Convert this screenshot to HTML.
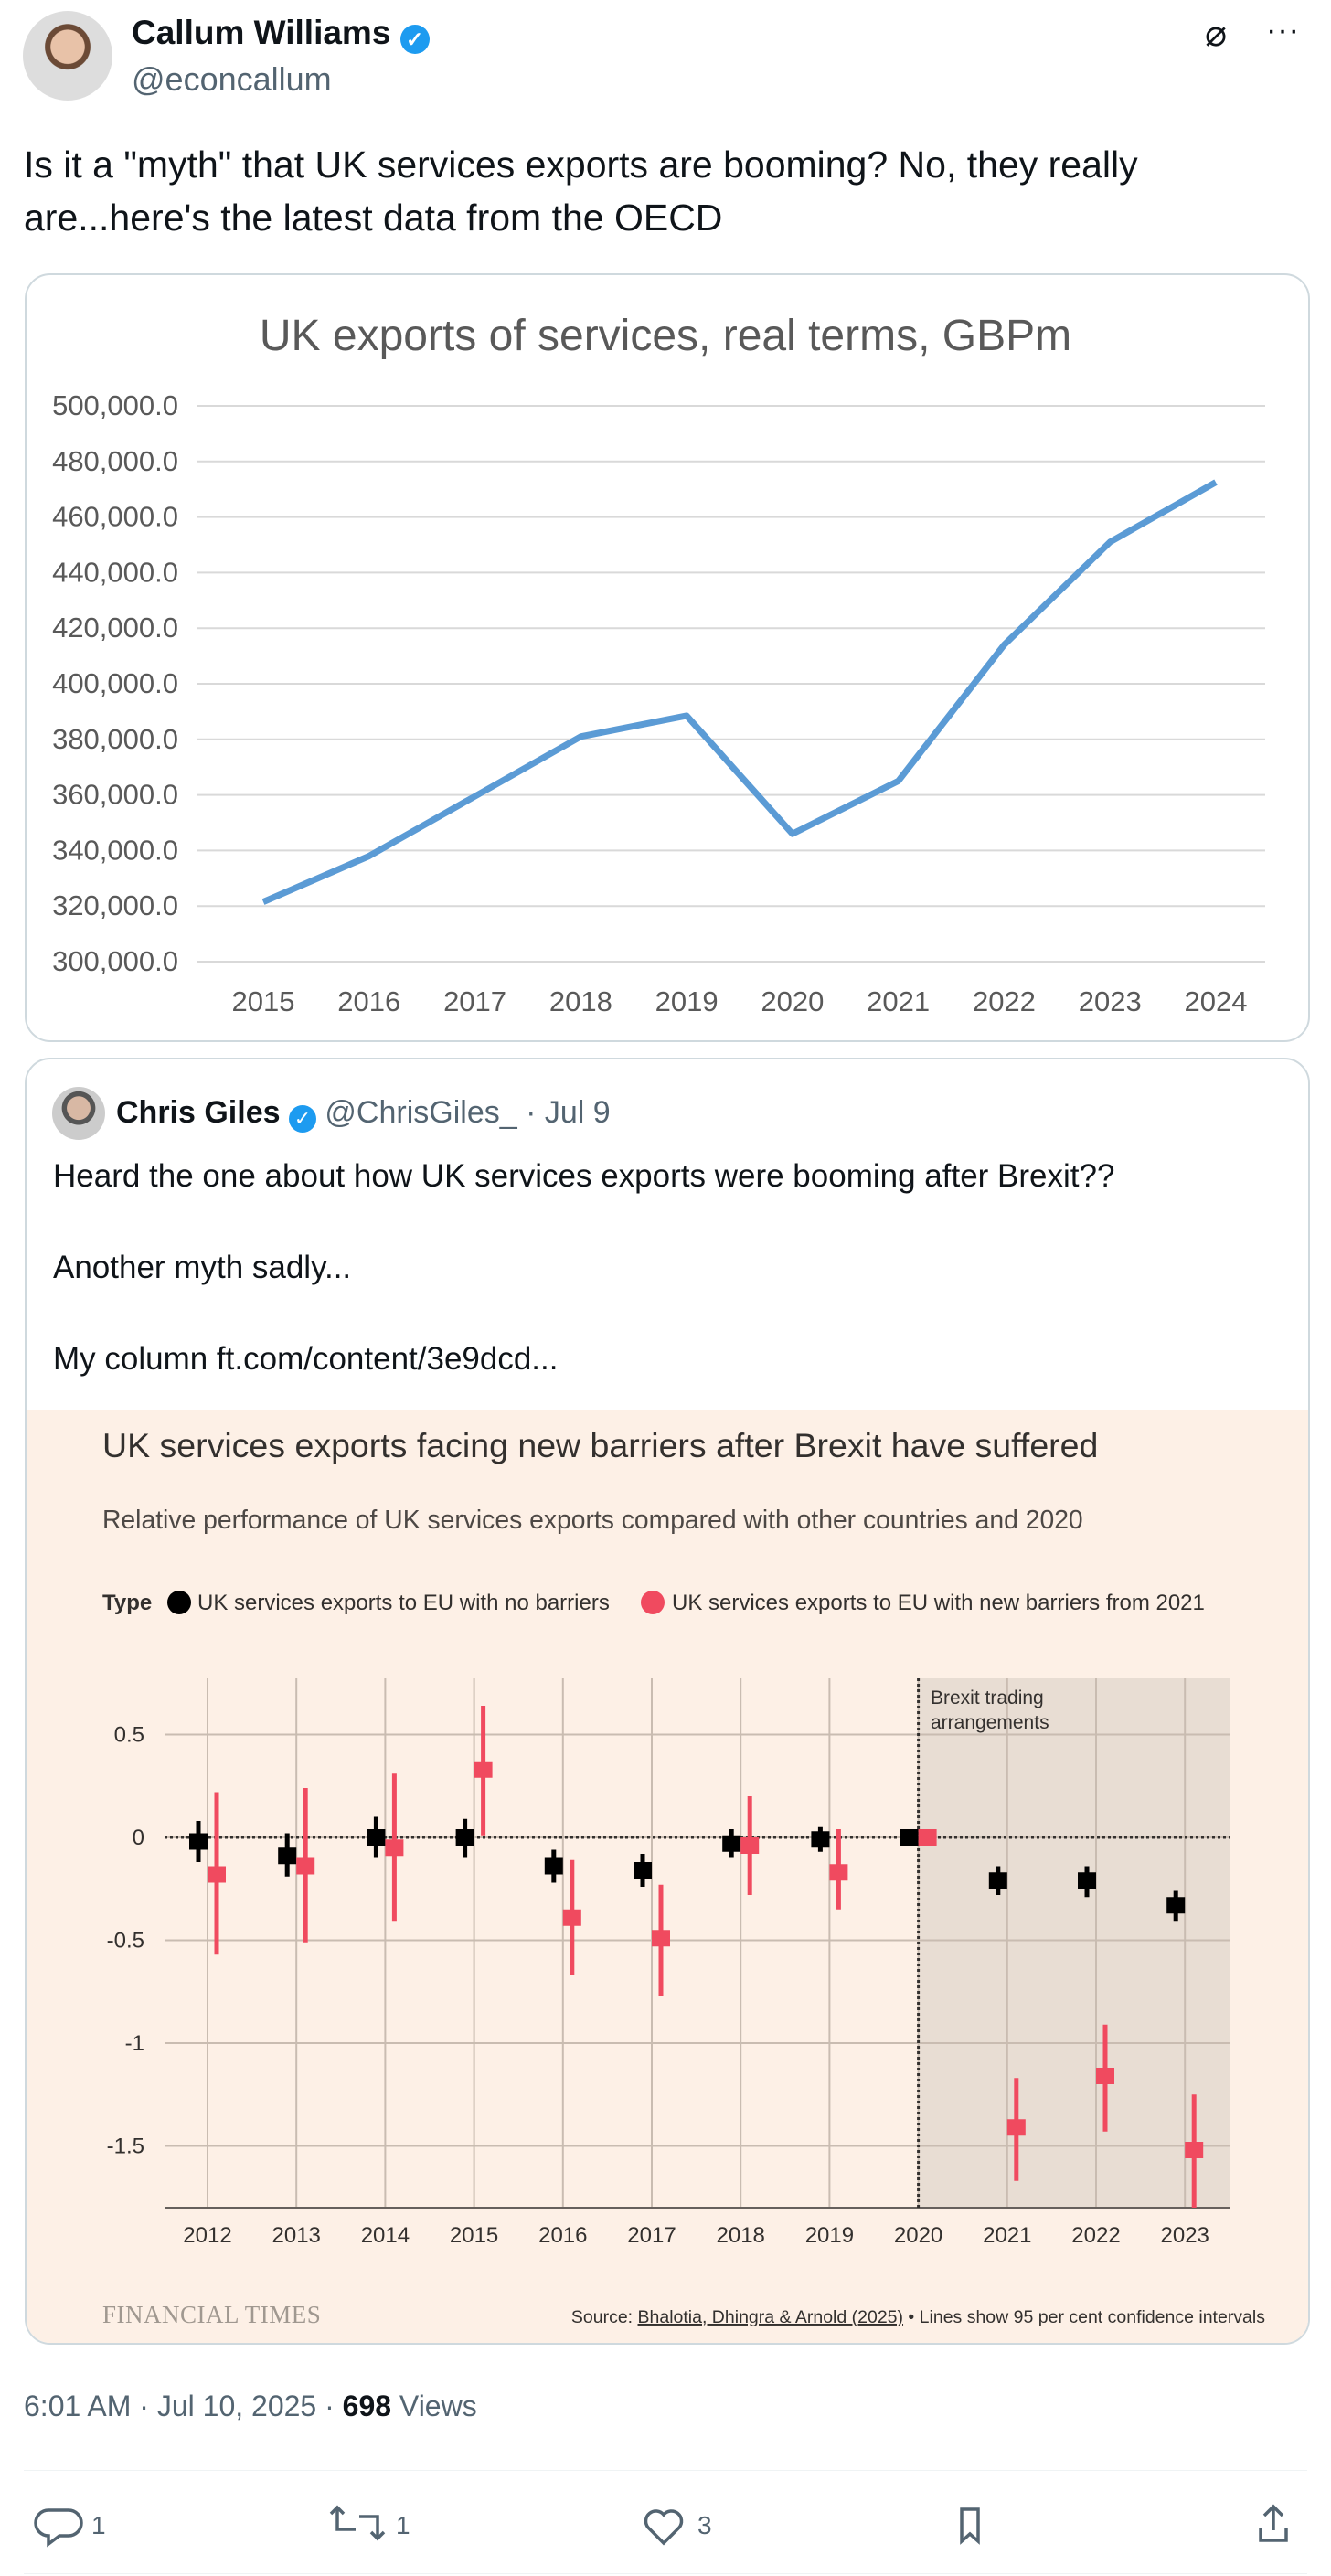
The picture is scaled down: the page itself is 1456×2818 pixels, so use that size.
<!DOCTYPE html>
<html><head><meta charset="utf-8"><style>
body{margin:0;width:1456px;height:2818px;background:#fff;position:relative;overflow:hidden;font-family:"Liberation Sans",sans-serif;color:#0f1419}
.a{position:absolute;white-space:nowrap}
svg{position:absolute;left:0;top:0}
</style></head><body>
<div class="a" style="left:25px;top:12px;width:98px;height:98px;border-radius:50%;background:radial-gradient(circle at 50% 40%,#e8c2a8 0 24%,#6b4a36 25% 32%,#ddd 33%);"></div>
<div class="a" style="left:144px;top:15px;font-size:37px;font-weight:bold">Callum Williams <span style="display:inline-block;width:32px;height:32px;border-radius:50%;background:#1d9bf0;color:#fff;font-size:23px;text-align:center;line-height:32px;vertical-align:-3px">✓</span></div>
<div class="a" style="left:144px;top:66px;font-size:36px;color:#536471">@econcallum</div>
<div class="a" style="left:1318px;top:14px;font-size:40px">⌀</div>
<div class="a" style="left:1385px;top:14px;font-size:34px;letter-spacing:1px">···</div>
<div class="a" style="left:26px;top:151px;font-size:41px;line-height:58px">Is it a "myth" that UK services exports are booming? No, they really<br>are...here's the latest data from the OECD</div>

<div class="a" style="left:27px;top:299px;width:1402px;height:837px;border:2px solid #cfd9de;border-radius:28px"></div>
<svg id="c1" width="1456" height="1150"></svg>

<div class="a" style="left:27px;top:1157px;width:1402px;height:1404px;border:2px solid #cfd9de;border-radius:28px;overflow:hidden">
<div style="position:absolute;left:0;top:383px;width:1402px;height:1030px;background:#fdf0e6"></div></div>
<div class="a" style="left:57px;top:1189px;width:58px;height:58px;border-radius:50%;background:radial-gradient(circle at 50% 40%,#d8b8a4 0 28%,#555 29% 40%,#ccc 41%)"></div>
<div class="a" style="left:127px;top:1198px;font-size:34px"><b>Chris Giles</b> <span style="display:inline-block;width:30px;height:30px;border-radius:50%;background:#1d9bf0;color:#fff;font-size:22px;text-align:center;line-height:30px;vertical-align:-3px">✓</span> <span style="color:#536471">@ChrisGiles_ · Jul 9</span></div>
<div class="a" style="left:58px;top:1262px;font-size:35px;line-height:50px">Heard the one about how UK services exports were booming after Brexit??<br><br>Another myth sadly...<br><br>My column ft.com/content/3e9dcd...</div>
<svg id="c2" width="1456" height="2600"></svg>

<div class="a" style="left:26px;top:2614px;font-size:32px;color:#536471">6:01 AM · Jul 10, 2025 · <b style="color:#0f1419">698</b> Views</div>
<div class="a" style="left:26px;top:2702px;width:1404px;height:1px;background:#eff3f4"></div>
<div class="a" style="left:26px;top:2815px;width:1404px;height:1px;background:#eff3f4"></div>
<svg width="1456" height="2818" style="pointer-events:none">
<g fill="none" stroke="#536471" stroke-width="3.5"><path d="M53 2746 h22 a14 14 0 0 1 0 28 h-10 l-12 9 v-9 a14 14 0 0 1 0-28z"/></g>
<text x="100" y="2772" font-size="28" fill="#536471">1</text>
<g fill="none" stroke="#536471" stroke-width="3.5"><path d="M376 2750 l-7-7-7 7 M369 2743 v24 h20 M406 2770 l7 7 7-7 M413 2777 v-24 h-20"/></g>
<text x="433" y="2772" font-size="28" fill="#536471">1</text>
<path d="M726 2782 l-17-17 a10 10 0 0 1 17-14 a10 10 0 0 1 17 14z" fill="none" stroke="#536471" stroke-width="3.5"/>
<text x="763" y="2772" font-size="28" fill="#536471">3</text>
<path d="M1052 2745 h18 v35 l-9-8 -9 8z" fill="none" stroke="#536471" stroke-width="3.5"/>
<path d="M1379 2765 v14 h28 v-14 M1393 2768 v-26 M1383 2752 l10-10 10 10" fill="none" stroke="#536471" stroke-width="3.5"/>
</svg>

<script>
const NS='http://www.w3.org/2000/svg';
function mk(p,t,at,txt){const e=document.createElementNS(NS,t);for(const k in at)e.setAttribute(k,at[k]);if(txt!==undefined)e.textContent=txt;p.appendChild(e);return e;}
// Chart 1 data
const years1=['2015','2016','2017','2018','2019','2020','2021','2022','2023','2024'];
const exportsVals=[321500,338000,359500,381000,388500,346000,365000,414000,451000,472500];
const yTicks1=[300000,320000,340000,360000,380000,400000,420000,440000,460000,480000,500000];
const c1=document.getElementById('c1');
const y1=v=>1052-(v-300000)/200000*608;
const x1=i=>288+i*(1330-288)/9;
let t=mk(c1,'text',{x:728,y:383,'font-size':48,fill:'#595959','text-anchor':'middle'},'UK exports of services, real terms, GBPm');

yTicks1.forEach(v=>{
 let l=mk(c1,'line',{x1:216,x2:1384,y1:y1(v),y2:y1(v),stroke:'#d9d9d9','stroke-width':2});
 
 let tx=mk(c1,'text',{x:195,y:y1(v)+10,'font-size':31,fill:'#595959','text-anchor':'end'},v.toLocaleString('en-US')+'.0');
 
});
years1.forEach((yr,i)=>{
 let tx=mk(c1,'text',{x:x1(i),y:1106,'font-size':31,fill:'#595959','text-anchor':'middle'},yr);
 
});
let ln=mk(c1,'polyline',{points:exportsVals.map((v,i)=>x1(i)+','+y1(v)).join(' '),fill:'none',stroke:'#5b9bd5','stroke-width':7,'stroke-linejoin':'round'});


// Chart 2 data
const years2=['2012','2013','2014','2015','2016','2017','2018','2019','2020','2021','2022','2023'];
const noBarrierMean=[-0.02,-0.09,0.00,0.00,-0.14,-0.16,-0.03,-0.01,0,-0.21,-0.21,-0.33];
const noBarrierLo=[-0.12,-0.19,-0.10,-0.10,-0.22,-0.24,-0.10,-0.07,0,-0.28,-0.29,-0.41];
const noBarrierHi=[0.08,0.02,0.10,0.09,-0.06,-0.08,0.04,0.05,0,-0.14,-0.14,-0.26];
const barrierMean=[-0.18,-0.14,-0.05,0.33,-0.39,-0.49,-0.04,-0.17,0,-1.41,-1.16,-1.52];
const barrierLo=[-0.57,-0.51,-0.41,0.01,-0.67,-0.77,-0.28,-0.35,0,-1.67,-1.43,-1.80];
const barrierHi=[0.22,0.24,0.31,0.64,-0.11,-0.23,0.20,0.04,0,-1.17,-0.91,-1.25];
const yTicks2=[0.5,0,-0.5,-1,-1.5];
const yTickLabels2=['0.5','0','-0.5','-1','-1.5'];
const c2=document.getElementById('c2');
const y2=v=>2010-v*225;
const x2=i=>227+i*97.2;
let g=(n,el)=>{};
g('ft-title',mk(c2,'text',{x:112,y:1594,'font-size':37.5,fill:'#33302e'},'UK services exports facing new barriers after Brexit have suffered'));
g('ft-subtitle',mk(c2,'text',{x:112,y:1672,'font-size':28.3,fill:'#4d4845'},'Relative performance of UK services exports compared with other countries and 2020'));
g('legend-type',mk(c2,'text',{x:112,y:1761,'font-size':24,'font-weight':'bold',fill:'#33302e'},'Type'));
let le=mk(c2,'circle',{cx:196,cy:1753,r:13,fill:'#000'});
g('legend-label-no-barriers',mk(c2,'text',{x:216,y:1761,'font-size':24,fill:'#33302e'},'UK services exports to EU with no barriers'));
le=mk(c2,'circle',{cx:714,cy:1753,r:13,fill:'#f04a5f'});
g('legend-label-new-barriers',mk(c2,'text',{x:735,y:1761,'font-size':24,fill:'#33302e'},'UK services exports to EU with new barriers from 2021'));
g('brexit-shade',mk(c2,'rect',{x:x2(8),y:1836,width:1346-x2(8),height:2415-1836,fill:'#e8ddd3'}));
yTicks2.forEach((v,i)=>{
 g('gridline',mk(c2,'line',{x1:180,x2:1346,y1:y2(v),y2:y2(v),stroke:'#c9bcb1','stroke-width':2}));
 g('y-tick-label',mk(c2,'text',{x:158,y:y2(v)+8,'font-size':24,fill:'#33302e','text-anchor':'end'},yTickLabels2[i]));
});
years2.forEach((yr,i)=>{
 g('year-gridline',mk(c2,'line',{x1:x2(i),x2:x2(i),y1:1836,y2:2415,stroke:'#c9bcb1','stroke-width':2}));
 g('x-tick-label',mk(c2,'text',{x:x2(i),y:2453,'font-size':24,fill:'#33302e','text-anchor':'middle'},yr));
});
g('x-axis',mk(c2,'line',{x1:180,x2:1346,y1:2415,y2:2415,stroke:'#66605c','stroke-width':2}));
g('zero-line',mk(c2,'line',{x1:180,x2:1346,y1:y2(0),y2:y2(0),stroke:'#33302e','stroke-width':3,'stroke-dasharray':'3 3'}));
g('brexit-line',mk(c2,'line',{x1:x2(8),x2:x2(8),y1:1836,y2:2415,stroke:'#33302e','stroke-width':3,'stroke-dasharray':'3 3'}));
g('brexit-label',mk(c2,'text',{x:1018,y:1864,'font-size':21,fill:'#33302e'},'Brexit trading'));
g('brexit-label-2',mk(c2,'text',{x:1018,y:1891,'font-size':21,fill:'#33302e'},'arrangements'));
function series(mean,lo,hi,off,col,nm){
 mean.forEach((m,i)=>{
  const cx=x2(i)+off;
  let w=mk(c2,'rect',{x:cx-2.5,y:y2(hi[i]),width:5,height:Math.max(0,y2(lo[i])-y2(hi[i])),fill:col});
  
  let s=mk(c2,'rect',{x:cx-10,y:y2(m)-9,width:20,height:18,fill:col});
  
 });
}
series(noBarrierMean,noBarrierLo,noBarrierHi,-10,'#000','no-barriers');
series(barrierMean,barrierLo,barrierHi,10,'#f04a5f','new-barriers');
g('ft-logo',mk(c2,'text',{x:112,y:2541,'font-size':27,fill:'#a09890','font-family':'"Liberation Serif",serif','letter-spacing':'0.5'},'FINANCIAL TIMES'));
let src=mk(c2,'text',{x:1384,y:2541,'font-size':19.5,fill:'#33302e','text-anchor':'end'});

src.innerHTML='Source: <tspan text-decoration="underline">Bhalotia, Dhingra &amp; Arnold (2025)</tspan> • Lines show 95 per cent confidence intervals';
</script>
</body></html>
